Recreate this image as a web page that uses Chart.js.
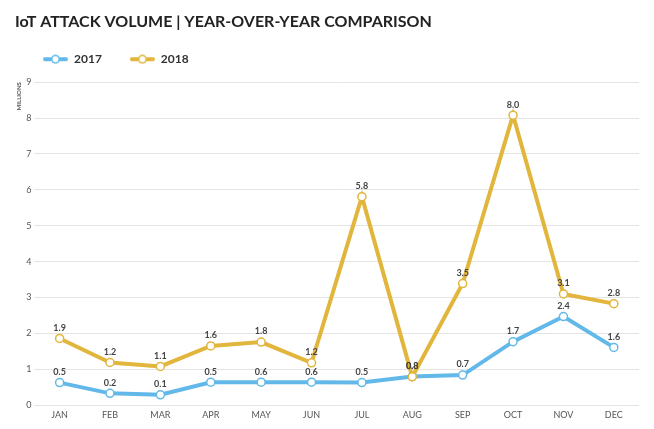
<!DOCTYPE html>
<html>
<head>
<meta charset="utf-8">
<script src="https://cdn.jsdelivr.net/npm/chart.js@4"></script>
<style>
  html, body { margin: 0; padding: 0; background: #fff; }
  #wrap { width: 654px; height: 429px; position: relative; }
</style>
</head>
<body>
<div id="wrap"><canvas id="chart"></canvas></div>
<script>
const months = ['JAN', 'FEB', 'MAR', 'APR', 'MAY', 'JUN', 'JUL', 'AUG', 'SEP', 'OCT', 'NOV', 'DEC'];
const values2017 = [0.63, 0.33, 0.29, 0.64, 0.64, 0.64, 0.63, 0.80, 0.84, 1.77, 2.47, 1.61];
const labels2017 = ['0.5', '0.2', '0.1', '0.5', '0.6', '0.6', '0.5', '0.8', '0.7', '1.7', '2.4', '1.6'];
const values2018 = [1.86, 1.19, 1.08, 1.65, 1.76, 1.18, 5.81, 0.79, 3.39, 8.08, 3.10, 2.83];
const labels2018 = ['1.9', '1.2', '1.1', '1.6', '1.8', '1.2', '5.8', '0.8', '3.5', '8.0', '3.1', '2.8'];
const yTicks = [0, 1, 2, 3, 4, 5, 6, 7, 8, 9];

const BLUE = '#62b9e9';
const GOLD = '#e2b53c';
const FONT = "Lato, 'Open Sans', sans-serif";

// little line + circle icon for the legend
function legendIcon(color) {
    const c = document.createElement('canvas');
    c.width = 25;
    c.height = 10;
    const ctx = c.getContext('2d');
    ctx.strokeStyle = color;
    ctx.lineWidth = 4;
    ctx.lineCap = 'round';
    ctx.beginPath();
    ctx.moveTo(2, 5);
    ctx.lineTo(23, 5);
    ctx.stroke();
    ctx.beginPath();
    ctx.arc(12.5, 5, 3.8, 0, Math.PI * 2);
    ctx.fillStyle = '#fff';
    ctx.fill();
    ctx.lineWidth = 1.5;
    ctx.stroke();
    return c;
}

// extra room under the legend
const legendGap = {
    id: 'legendGap',
    beforeInit(chart) {
        const fit = chart.legend.fit;
        chart.legend.fit = function () {
            fit.call(this);
            this.height += 7;
        };
    }
};

const pointLabels = {
    id: 'pointLabels',
    afterDatasetsDraw(chart) {
        const ctx = chart.ctx;
        ctx.save();
        ctx.font = "bold 9px " + FONT;
        ctx.fillStyle = '#444';
        ctx.textAlign = 'center';
        ctx.textBaseline = 'bottom';
        chart.data.datasets.forEach((ds, i) => {
            const meta = chart.getDatasetMeta(i);
            meta.data.forEach((pt, j) => {
                ctx.fillText(ds.valueLabels[j], pt.x, pt.y - 6);
            });
        });
        ctx.restore();
    }
};

new Chart(document.getElementById('chart'), {
    type: 'line',
    data: {
        labels: months,
        datasets: [
            {
                label: '2017',
                data: values2017,
                valueLabels: labels2017,
                borderColor: BLUE,
                backgroundColor: '#fff',
                borderWidth: 4,
                pointRadius: 4,
                pointBorderWidth: 1.5,
                pointBackgroundColor: '#fff',
                pointBorderColor: BLUE,
                tension: 0,
                order: 1
            },
            {
                label: '2018',
                data: values2018,
                valueLabels: labels2018,
                borderColor: GOLD,
                backgroundColor: '#fff',
                borderWidth: 4,
                pointRadius: 4,
                pointBorderWidth: 1.5,
                pointBackgroundColor: '#fff',
                pointBorderColor: GOLD,
                tension: 0,
                order: 0
            }
        ]
    },
    options: {
        responsive: true,
        maintainAspectRatio: false,
        animation: false,
        layout: { padding: { left: 15, right: 15, top: 8, bottom: 5 } },
        plugins: {
            title: {
                display: true,
                text: 'IoT ATTACK VOLUME | YEAR-OVER-YEAR COMPARISON',
                align: 'start',
                color: '#222',
                font: { family: FONT, size: 16, weight: 'bold' },
                padding: { top: 4, bottom: -6 }
            },
            legend: {
                align: 'start',
                labels: {
                    usePointStyle: true,
                    pointStyleWidth: 25,
                    padding: 28,
                    color: '#333',
                    font: { family: FONT, size: 12, weight: 'bold' },
                    sort: (a, b) => a.datasetIndex - b.datasetIndex,
                    generateLabels(chart) {
                        return chart.data.datasets.map((ds, i) => ({
                            text: ds.label,
                            datasetIndex: i,
                            pointStyle: legendIcon(ds.borderColor),
                            fillStyle: ds.borderColor,
                            strokeStyle: ds.borderColor,
                            fontColor: '#333',
                            lineWidth: 0,
                            hidden: false
                        }));
                    }
                }
            },
            tooltip: { enabled: false }
        },
        scales: {
            x: {
                offset: true,
                grid: { display: false, drawTicks: false },
                border: { display: false },
                ticks: {
                    color: '#555',
                    font: { family: FONT, size: 9 },
                    padding: 4
                }
            },
            y: {
                min: 0,
                max: 9,
                afterBuildTicks(axis) {
                    axis.ticks = yTicks.map(v => ({ value: v }));
                },
                grid: { color: '#e4e4e4', lineWidth: 1, drawTicks: false },
                border: { display: false },
                ticks: {
                    color: '#555',
                    font: { family: FONT, size: 9 },
                    padding: 3
                },
                title: {
                    display: true,
                    text: 'MILLIONS',
                    align: 'end',
                    color: '#555',
                    font: { family: FONT, size: 6, weight: 'bold' },
                    padding: { top: 0, bottom: 1 }
                }
            }
        }
    },
    plugins: [pointLabels, legendGap]
});
</script>
</body>
</html>
